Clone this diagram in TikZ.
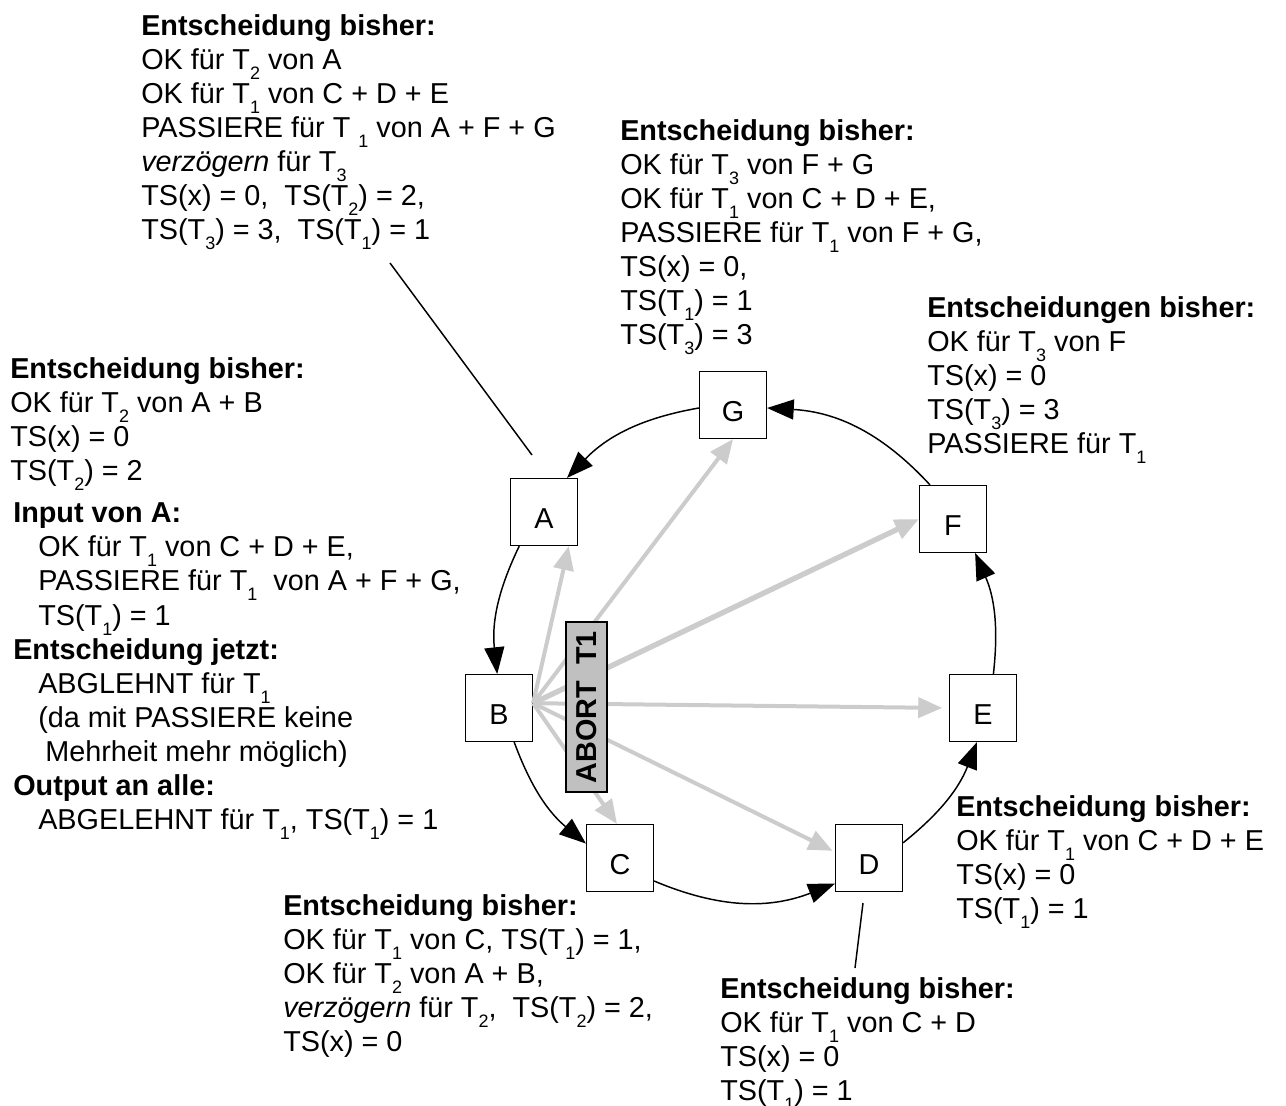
\documentclass[tikz,border=0pt]{standalone}
\usepackage{fontspec}
\setmainfont{Liberation Sans}
\usetikzlibrary{arrows.meta}
\definecolor{abortgray}{HTML}{C0C0C0}
\definecolor{arrowgray}{HTML}{CCCCCC}
\newcommand\ix[1]{\raisebox{-7.5pt}{\fontsize{13.5}{13.5}\selectfont #1}}
\begin{document}
\begin{tikzpicture}[x=0.75pt,y=-0.75pt,
  txt/.style={anchor=north west, inner sep=0pt, align=left, font=\fontsize{21.6}{25.6}\selectfont},
  station/.style={draw, line width=1.1pt, minimum width=50pt, minimum height=50pt, inner sep=0pt, text height=24pt, text depth=0pt, fill=white, font=\fontsize{21.6}{25.6}\selectfont},
  ring/.style={line width=1.1pt, -{Triangle[length=20pt,width=15pt]}},
  broadcast/.style={draw=arrowgray, line width=3pt, -{Triangle[length=18pt,width=15pt]}},
  leader/.style={line width=1.1pt}
]
\useasboundingbox (0,0) rectangle (1286,1106);

% stations
\node[station] (G) at (733,405) {G};
\node[station] (A) at (544,512) {A};
\node[station] (F) at (953,519) {F};
\node[station] (B) at (499,708) {B};
\node[station] (E) at (983,708) {E};
\node[station] (C) at (620,858) {C};
\node[station] (D) at (869,858) {D};

% broadcast arrows
\draw[broadcast] (B.8) -- (A.-54);
\draw[broadcast] (B.8) -- (G.south);
\draw[broadcast, line width=4pt] (B.8) -- (F.west);
\draw[broadcast, shorten >=5pt] (B.8) -- (E.west);
\draw[broadcast, shorten >=2pt] (B.8) -- (D.170);
\draw[broadcast] (B.8) -- (C.95);

% abort label
\node[draw, line width=1.1pt, fill=abortgray, rotate=90, minimum width=127.5pt, minimum height=30.75pt, inner sep=0pt, font=\bfseries\fontsize{21.6}{25.6}\selectfont] (abort) at (586.5,707) {ABORT\ \ T1};

% ring
\draw[ring] (G.185) to[bend right=18] (A.56);
\draw[ring] (A.234) to[bend right=16] (B.93);
\draw[ring] (B.-66) to[bend right=15] (C.157);
\draw[ring] (C.-34) to[bend right=22] (D.217);
\draw[ring] (D.24) to[bend right=15] (E.260);
\draw[ring] (E.73) to[bend right=15] (F.-57);
\draw[ring] (F.124) to[bend right=22] (G.-5);

% leaders
\coordinate (l1s) at (390,263);
\coordinate (l1e) at (532,455);
\draw[leader] (l1s) -- (l1e);
\coordinate (l2s) at (863,903);
\coordinate (l2e) at (855,968);
\draw[leader] (l2s) -- (l2e);

% text blocks
\node[txt] (b1) at (141,14) {\textbf{Entscheidung bisher:}\\
OK für T\ix{2} von A\\
OK für T\ix{1} von C + D + E\\
PASSIERE für T \ix{1} von A + F + G\\
\textit{verzögern} für T\ix{3}\\
TS(x) = 0,\ \ TS(T\ix{2}) = 2,\\
TS(T\ix{3}) = 3,\ \ TS(T\ix{1}) = 1};

\node[txt] (b2) at (620,119) {\textbf{Entscheidung bisher:}\\
OK für T\ix{3} von F + G\\
OK für T\ix{1} von C + D + E,\\
PASSIERE für T\ix{1} von F + G,\\
TS(x) = 0,\\
TS(T\ix{1}) = 1\\
TS(T\ix{3}) = 3};

\node[txt] (b3) at (927,296) {\textbf{Entscheidungen bisher:}\\
OK für T\ix{3} von F\\
TS(x) = 0\\
TS(T\ix{3}) = 3\\
PASSIERE für T\ix{1}};

\node[txt] (b4) at (10,357) {\textbf{Entscheidung bisher:}\\
OK für T\ix{2} von A + B\\
TS(x) = 0\\
TS(T\ix{2}) = 2\\[6pt]
\hspace*{2.25pt}\textbf{Input von A:}\\
\hspace*{21pt}OK für T\ix{1} von C + D + E,\\
\hspace*{21pt}PASSIERE für T\ix{1}\ \ von A + F + G,\\
\hspace*{21pt}TS(T\ix{1}) = 1\\
\hspace*{2.25pt}\textbf{Entscheidung jetzt:}\\
\hspace*{21pt}ABGLEHNT für T\ix{1}\\
\hspace*{21pt}(da mit PASSIERE keine\\
\hspace*{26.25pt}Mehrheit mehr möglich)\\
\hspace*{2.25pt}\textbf{Output an alle:}\\
\hspace*{21pt}ABGELEHNT für T\ix{1}, TS(T\ix{1}) = 1};

\node[txt] (b5) at (283,894) {\textbf{Entscheidung bisher:}\\
OK für T\ix{1} von C, TS(T\ix{1}) = 1,\\
OK für T\ix{2} von A + B,\\
\textit{verzögern} für T\ix{2},\ \ TS(T\ix{2}) = 2,\\
TS(x) = 0};

\node[txt] (b6) at (956,795) {\textbf{Entscheidung bisher:}\\
OK für T\ix{1} von C + D + E\\
TS(x) = 0\\
TS(T\ix{1}) = 1};

\node[txt] (b7) at (720,977) {\textbf{Entscheidung bisher:}\\
OK für T\ix{1} von C + D\\
TS(x) = 0\\
TS(T\ix{1}) = 1};
\end{tikzpicture}
\end{document}
